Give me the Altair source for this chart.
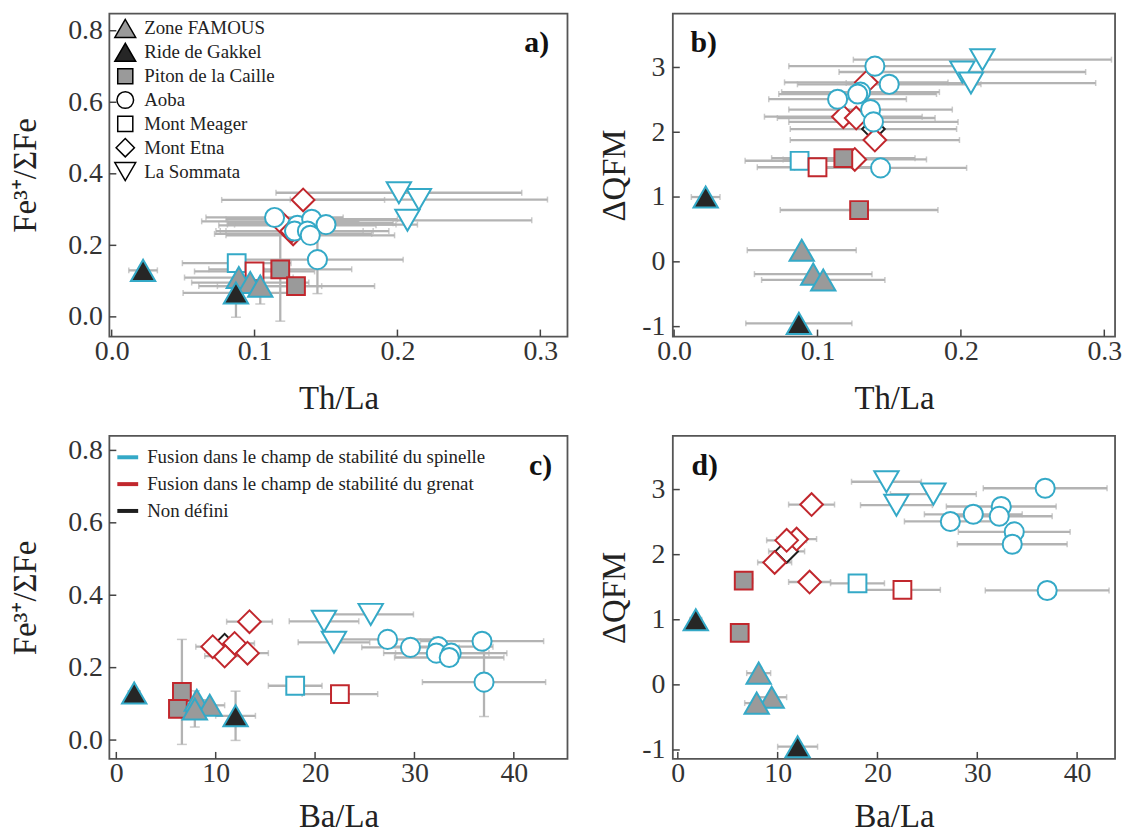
import altair as alt
import pandas as pd

# ---------------- data ----------------
SP = "Fusion dans le champ de stabilité du spinelle"
GR = "Fusion dans le champ de stabilité du grenat"
ND = "Non défini"

location = (["Mont Meager"] * 2 + ["Mont Etna"] * 6 + ["Aoba"] * 8 + ["La Sommata"] * 3
            + ["Piton de la Caille"] * 2 + ["Zone FAMOUS"] * 3 + ["Ride de Gakkel"] * 2)
regime = ([SP, GR] + [ND, GR, GR, GR, GR, GR] + [SP] * 8 + [SP] * 3 + [GR] * 2 + [SP] * 3 + [SP] * 2)

th_la = [0.0875, 0.100, 0.139, 0.134, 0.118, 0.127, 0.140, 0.126,
         0.114, 0.130, 0.140, 0.144, 0.150, 0.128, 0.137, 0.139,
         0.215, 0.201, 0.207, 0.118, 0.129, 0.089, 0.097, 0.104, 0.022, 0.087]
th_la_err = [0.038, 0.042, 0.058, 0.057, 0.055, 0.055, 0.059, 0.050,
             0.048, 0.055, 0.060, 0.060, 0.064, 0.055, 0.057, 0.059,
             0.090, 0.086, 0.087, 0.050, 0.055, 0.038, 0.041, 0.043, 0.010, 0.037]
ba_la = [18.0, 22.5, 10.9, 13.4, 11.9, 10.9, 9.7, 13.2,
         27.3, 29.6, 36.8, 37.0, 32.4, 32.2, 33.7, 33.5,
         20.9, 25.6, 21.9, 6.6, 6.2, 8.1, 9.4, 7.9, 1.8, 12.0]
ba_la_err = [2.7, 3.8, 1.8, 2.3, 2.0, 2.0, 1.7, 2.1,
             4.6, 4.9, 6.2, 6.2, 5.5, 5.3, 5.6, 5.5,
             3.5, 4.3, 3.6, 0.9, 0.8, 1.2, 1.5, 1.2, 0.6, 2.0]
fe_ratio = [0.150, 0.127, 0.262, 0.327, 0.267, 0.232, 0.258, 0.240,
            0.278, 0.256, 0.273, 0.160, 0.258, 0.240, 0.240, 0.228,
            0.328, 0.347, 0.270, 0.133, 0.086, 0.110, 0.096, 0.086, 0.130, 0.067]
fe_ratio_err = [0, 0, 0, 0, 0, 0, 0, 0,
                0, 0, 0, 0.095, 0, 0, 0, 0,
                0, 0, 0, 0.145, 0, 0, 0, 0.050, 0, 0.068]
dqfm = [1.56, 1.46, 2.05, 2.77, 2.24, 2.22, 1.88, 1.58,
        2.51, 2.62, 3.02, 1.45, 2.74, 2.59, 2.35, 2.16,
        3.12, 2.93, 2.76, 1.60, 0.80, 0.18, -0.19, -0.28, 1.00, -0.95]

locations_order = ["Zone FAMOUS", "Ride de Gakkel", "Piton de la Caille", "Aoba",
                   "Mont Meager", "Mont Etna", "La Sommata"]
regime_order = [SP, GR, ND]

th_ticks = [0.0, 0.1, 0.2, 0.3]
ba_ticks = [0, 10, 20, 30, 40]
fe_ticks = [0.0, 0.2, 0.4, 0.6, 0.8]
qfm_ticks = [-1, 0, 1, 2, 3]
panel_tags = ["a)", "b)", "c)", "d)"]

# ---------------- styles ----------------
FONT = "Liberation Serif"
CYAN = "#34a9c7"
RED = "#c1272d"
BLACK = "#1e1e1e"
GRAY = "#b3b3b3"
AXC = "#444444"
shape_range = ["triangle-up", "triangle-up", "square", "circle", "square", "diamond", "triangle-down"]
fill_range = ["#9a9a9a", "#262626", "#9a9a9a", "#ffffff", "#ffffff", "#ffffff", "#ffffff"]
size_by_shape = {"triangle-up": 600, "triangle-down": 600, "square": 320, "circle": 370, "diamond": 520}
legend_size_by_shape = {"triangle-up": 440, "triangle-down": 440, "square": 230, "circle": 280, "diamond": 340}

df = pd.DataFrame({
    "loc": location, "regime": regime,
    "thla": th_la, "thla_err": th_la_err,
    "bala": ba_la, "bala_err": ba_la_err,
    "fe": fe_ratio, "fe_err": fe_ratio_err,
    "qfm": dqfm,
})
size_map = dict(zip(locations_order, [size_by_shape[s] for s in shape_range]))
df["sz"] = df["loc"].map(size_map)
df["idx"] = range(len(df))

leg_df = pd.DataFrame({"loc": locations_order, "row": list(range(len(locations_order)))})
leg_df["lsz"] = [legend_size_by_shape[s] for s in shape_range]

shape_scale = alt.Scale(domain=locations_order, range=shape_range)
fill_scale = alt.Scale(domain=locations_order, range=fill_range)
stroke_scale = alt.Scale(domain=regime_order, range=[CYAN, RED, BLACK])

axis_style = dict(ticks=False, grid=False, domain=False, labelFont=FONT, labelFontSize=28,
                  labelColor="#333333", labelFlush=False,
                  titleFont=FONT, titleFontSize=33, titleFontWeight="normal", titleColor="#222222")

W_L, W_R, H_T, H_B = 461, 445, 325, 325


def panel(xcol, xerr, ycol, yerr, xdom, ydom, w, h, xticks, yticks, xfmt, yfmt,
          xtitle, ytitle, tag, tag_xy, legend_kind, right_col, x_title_pad):
    xs = alt.Scale(domain=xdom, nice=False, zero=False)
    ys = alt.Scale(domain=ydom, nice=False, zero=False)
    xaxis = alt.Axis(values=xticks, format=xfmt, title=xtitle, titlePadding=x_title_pad, labelPadding=1, **axis_style)
    yextra = {}
    if right_col:
        yextra["labelExpr"] = "datum.value < 0 ? '-' + format(abs(datum.value), 'd') : datum.label"
    yaxis = alt.Axis(values=yticks, format=yfmt, title=ytitle,
                     titlePadding=(10 if right_col else 25), labelPadding=(8 if right_col else 7),
                     **axis_style, **yextra)

    def X(f):
        return alt.X(f, type="quantitative", scale=xs, axis=xaxis)

    def Y(f):
        return alt.Y(f, type="quantitative", scale=ys, axis=yaxis)

    layers = []
    hb = df[df[xerr] > 0].copy()
    hb["lo"] = hb[xcol] - hb[xerr]
    hb["hi"] = hb[xcol] + hb[xerr]
    layers.append(alt.Chart(hb).mark_rule(color=GRAY, strokeWidth=2.3).encode(
        x=X("lo"), x2="hi", y=Y(ycol)))
    hc = pd.concat([hb.assign(c=hb["lo"]), hb.assign(c=hb["hi"])])
    layers.append(alt.Chart(hc).mark_tick(orient="vertical", size=6, thickness=1.5, color=GRAY).encode(
        x=X("c"), y=Y(ycol)))
    if yerr is not None:
        vb = df[df[yerr] > 0].copy()
        vb["lo"] = vb[ycol] - vb[yerr]
        vb["hi"] = vb[ycol] + vb[yerr]
        layers.append(alt.Chart(vb).mark_rule(color=GRAY, strokeWidth=2.3).encode(
            y=Y("lo"), y2="hi", x=X(xcol)))
        vc = pd.concat([vb.assign(c=vb["lo"]), vb.assign(c=vb["hi"])])
        layers.append(alt.Chart(vc).mark_tick(orient="horizontal", size=10, thickness=1.5, color=GRAY).encode(
            y=Y("c"), x=X(xcol)))

    if legend_kind == "stroke":
        sleg = alt.Legend(title=None, orient="none", legendX=6, legendY=9, padding=0,
                          symbolType="stroke", symbolStrokeWidth=4, symbolSize=440,
                          labelFont=FONT, labelFontSize=19, labelColor="#222222", labelLimit=0,
                          rowPadding=4, labelOffset=7)
        stroke_enc = alt.Stroke("regime:N", scale=stroke_scale, legend=sleg)
    else:
        stroke_enc = alt.Stroke("regime:N", scale=stroke_scale, legend=None)

    layers.append(alt.Chart(df).mark_point(filled=True, opacity=1, fillOpacity=1, strokeWidth=2).encode(
        x=X(xcol), y=Y(ycol),
        shape=alt.Shape("loc:N", scale=shape_scale, legend=None),
        fill=alt.Fill("loc:N", scale=fill_scale, legend=None),
        stroke=stroke_enc,
        size=alt.Size("sz:Q", scale=None), order=alt.Order("idx:Q")))

    layers.append(alt.Chart(pd.DataFrame({"v": xticks})).mark_rule(color=AXC, strokeWidth=1.5).encode(
        x=X("v"), y=alt.value(h), y2=alt.value(h - 7)))
    layers.append(alt.Chart(pd.DataFrame({"v": yticks})).mark_rule(color=AXC, strokeWidth=1.5).encode(
        y=Y("v"), x=alt.value(0), x2=alt.value(7)))
    layers.append(alt.Chart(pd.DataFrame({"t": [tag]})).mark_text(
        font=FONT, fontSize=30, fontWeight="bold", align="center", baseline="middle", color="#111111").encode(
        text="t:N", x=alt.value(tag_xy[0]), y=alt.value(tag_xy[1])))
    inner = alt.layer(*layers)

    if legend_kind == "shape":
        row_scale = alt.Scale(domain=[0, len(locations_order) - 1], range=[15, 15 + 24 * (len(locations_order) - 1)])
        leg_pts = alt.Chart(leg_df).mark_point(filled=True, opacity=1, fillOpacity=1, stroke="black",
                                               strokeWidth=1.5).encode(
            x=alt.value(16), y=alt.Y("row:Q", scale=row_scale, axis=None),
            shape=alt.Shape("loc:N", scale=shape_scale, legend=None),
            fill=alt.Fill("loc:N", scale=fill_scale, legend=None),
            size=alt.Size("lsz:Q", scale=None))
        leg_txt = alt.Chart(leg_df).mark_text(align="left", baseline="middle", font=FONT, fontSize=19,
                                              color="#222222").encode(
            x=alt.value(35), y=alt.Y("row:Q", scale=row_scale, axis=None), text="loc:N")
        return alt.layer(inner, alt.layer(leg_pts, leg_txt)).resolve_scale(y="independent").properties(width=w, height=h)
    return inner.properties(width=w, height=h)


FE_T = "Fe³⁺/ΣFe"
QFM_T = "ΔQFM"
pa = panel("thla", "thla_err", "fe", "fe_err", [-0.0016, 0.319], [-0.055, 0.848], W_L, H_T,
           th_ticks, fe_ticks, ".1f", ".1f", "Th/La", FE_T, panel_tags[0], (430, 30), "shape", False, 17)
pb = panel("thla", "thla_err", "qfm", None, [-0.0009, 0.3075], [-1.153, 3.832], W_R, H_T,
           th_ticks, qfm_ticks, ".1f", "d", "Th/La", QFM_T, panel_tags[1], (31, 30), None, True, 17)
pc = panel("bala", "bala_err", "fe", "fe_err", [-0.7, 45.4], [-0.052, 0.84], W_L, H_B,
           ba_ticks, fe_ticks, "d", ".1f", "Ba/La", FE_T, panel_tags[2], (434, 30), "stroke", False, 13)
pd_ = panel("bala", "bala_err", "qfm", None, [-0.5, 43.8], [-1.137, 3.824], W_R, H_B,
            ba_ticks, qfm_ticks, "d", "d", "Ba/La", QFM_T, panel_tags[3], (32, 30), None, True, 13)

res = dict(shape="independent", fill="independent", stroke="independent", size="independent")
lres = dict(shape="independent", fill="independent", stroke="independent")
top = alt.hconcat(pa, pb, spacing=29).resolve_scale(**res).resolve_legend(**lres)
bot = alt.hconcat(pc, pd_, spacing=29).resolve_scale(**res).resolve_legend(**lres)
chart = (alt.vconcat(top, bot, spacing=19)
         .resolve_scale(**res)
         .resolve_legend(**lres)
         .configure_view(stroke="#555555", strokeWidth=1.8)
         .configure_axis(labelFont=FONT, titleFont=FONT)
         .properties(padding={"left": 1, "top": 2, "right": 0, "bottom": 0}))

chart.save("out.html", embed_options={"renderer": "svg", "actions": False})
